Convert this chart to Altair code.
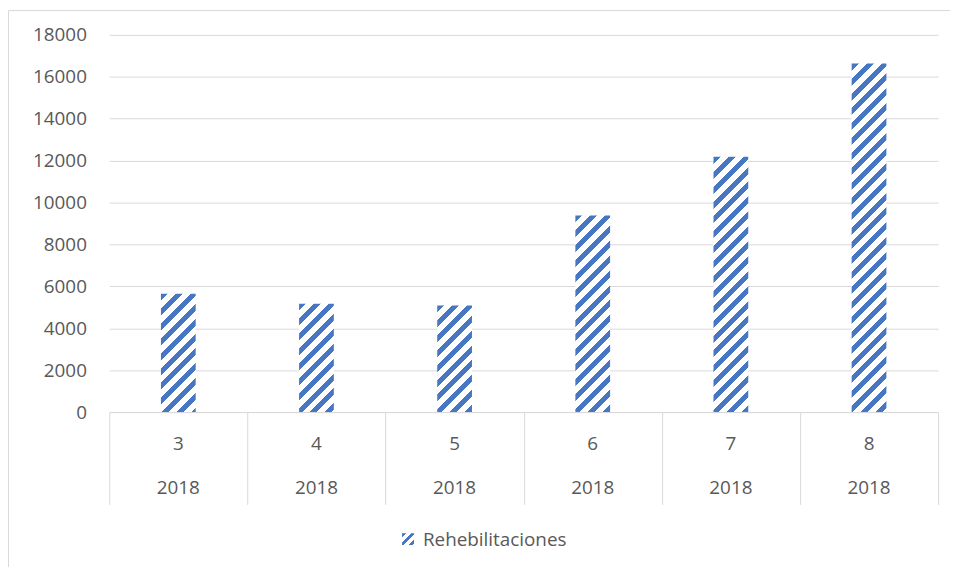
import altair as alt
import pandas as pd

# ---- data ----
months = ["3", "4", "5", "6", "7", "8"]
years = ["2018", "2018", "2018", "2018", "2018", "2018"]
values = [5650, 5170, 5090, 9380, 12180, 16630]
series = ["Rehebilitaciones"]
y_ticks = [0, 2000, 4000, 6000, 8000, 10000, 12000, 14000, 16000, 18000]

# ---- style ----
BLUE = "#4776C2"
GRID = "#d9d9d9"
TEXT = "#595959"
FONT = "Open Sans"
FS = 19
W, H = 835, 380
YMAX = 18000
BAR_W = 35


def hatch(w, h, period=15.0, duty=0.47):
    """Linear gradient with hard stops giving 45deg '/' stripes in pixel space."""
    lam = (w + h) / (w * w + h * h)
    p = period / (w + h)
    stops = []
    s = 0.0
    while s < 1.0:
        a = round(min(s, 1.0), 5)
        b = round(min(s + duty * p, 1.0), 5)
        c = round(min(s + p, 1.0), 5)
        stops += [
            alt.GradientStop(color=BLUE, offset=a),
            alt.GradientStop(color=BLUE, offset=b),
            alt.GradientStop(color="#ffffff", offset=b),
            alt.GradientStop(color="#ffffff", offset=c),
        ]
        s += p
    return alt.LinearGradient(
        gradient="linear", stops=stops,
        x1=0, y1=0, x2=round(lam * w, 5), y2=round(lam * h, 5),
    )


df = pd.DataFrame({"month": months, "year": years, "value": values})
leg = pd.DataFrame({"series": series})

x_enc = alt.X(
    "month:N", sort=months,
    scale=alt.Scale(paddingInner=0, paddingOuter=0),
    axis=alt.Axis(
        title=None, labels=False, grid=False,
        tickBand="extent", tickSize=93, tickColor=GRID, tickWidth=1,
        domainColor=GRID, domainWidth=1,
    ),
)
y_enc = alt.Y(
    "value:Q",
    scale=alt.Scale(domain=[0, YMAX], nice=False, zero=True),
    axis=alt.Axis(
        title=None, values=y_ticks, format="d", grid=True, gridColor=GRID,
        gridWidth=1, domain=False, ticks=False, tickSize=0, labelPadding=23,
        labelFontSize=FS, labelColor=TEXT, labelFont=FONT,
    ),
)

base = alt.Chart(df)

bars = []
for m, v in zip(months, values):
    h = v / YMAX * H
    bars.append(
        base.transform_filter(alt.datum.month == m)
        .mark_bar(size=BAR_W, color=hatch(BAR_W, h))
        .encode(x=x_enc, y=y_enc)
    )

month_text = base.mark_text(
    font=FONT, fontSize=FS, color=TEXT, baseline="middle"
).encode(x=x_enc, y=alt.value(412), text="month:N")

year_text = base.mark_text(
    font=FONT, fontSize=FS, color=TEXT, baseline="middle"
).encode(x=x_enc, y=alt.value(457), text="year:N")

border = alt.Chart(leg).mark_rect(
    filled=False, stroke=GRID, strokeWidth=1
).encode(
    x=alt.value(-101.5), x2=alt.value(1100),
    y=alt.value(-24.5), y2=alt.value(800),
)

swatch = alt.Chart(leg).mark_rect(color=hatch(12, 12, period=9.0, duty=0.5)).encode(
    x=alt.value(295), x2=alt.value(307), y=alt.value(502), y2=alt.value(514)
)

legend_text = alt.Chart(leg).mark_text(
    font=FONT, fontSize=FS, color=TEXT, align="left", baseline="middle"
).encode(x=alt.value(316), y=alt.value(509), text="series:N")

chart = (
    alt.layer(border, *bars, month_text, year_text, swatch, legend_text)
    .properties(
        width=W, height=H,
        padding={"left": 102, "top": 25, "right": 12, "bottom": 154},
        autosize=alt.AutoSizeParams(type="none"),
    )
    .configure(font=FONT)
    .configure_view(strokeWidth=0)
)

chart.save("out.html", embed_options={"renderer": "svg", "actions": False})
